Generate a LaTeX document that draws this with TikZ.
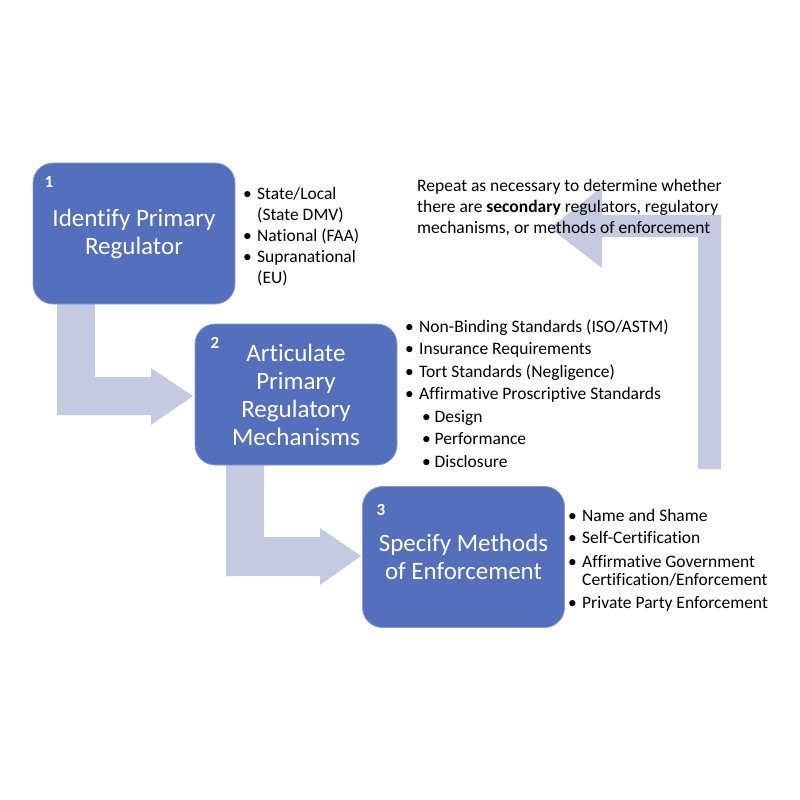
\documentclass[tikz,border=0pt]{standalone}
\usepackage{fontspec}
\setmainfont{Carlito}[Ligatures=NoCommon]
\usepackage{tikz}

\definecolor{stepblue}{RGB}{84,112,188}
\definecolor{flowgray}{RGB}{196,202,224}
\newcommand{\bul}{\makebox[14pt][l]{•}}
\newcommand{\subbul}{\hspace{17pt}\makebox[12.5pt][l]{•}}

\tikzset{
  stepbox/.style={fill=stepblue, draw=stepblue!70!white, line width=0.8pt,
    rounded corners=20pt, minimum width=202pt, minimum height=141pt,
    inner sep=0pt, text=white, align=center,
    font=\fontsize{25}{28}\selectfont},
  stepnum/.style={text=white, inner sep=0pt, font=\bfseries\fontsize{17}{18}\selectfont},
  bullets/.style={anchor=base west, align=left, inner sep=0pt},
}

\begin{document}
\begin{tikzpicture}[x=1pt, y=-1pt]
\useasboundingbox (0,0) rectangle (800,800);
% loop back arrow
\fill[flowgray] (698,469) -- (698,237) -- (602,237) -- (602,268) --
	(550,228) -- (602,187) -- (602,215) -- (721,215) -- (721,469) -- cycle;
% step arrows
\fill[flowgray] (57,290) -- (95,290) -- (95,377) -- (151,377) -- (151,368) --
	(193,396) -- (151,425) -- (151,415) -- (57,415) -- cycle;
\fill[flowgray] (226,455) -- (264,455) -- (264,537) -- (320,537) -- (320,528) --
	(361,556) -- (320,585) -- (320,576) -- (226,576) -- cycle;

% boxes
\node[stepbox] (box1) at (134,233.5) {Identify Primary\\Regulator};
\node[stepbox] (box2) at (296,394.5) {Articulate\\Primary\\Regulatory\\Mechanisms};
\node[stepbox] (box3) at (463.5,557) {Specify Methods\\of Enforcement};
\node[stepnum] (num1) at (49,182) {1};
\node[stepnum] (num2) at (215,343) {2};
\node[stepnum] (num3) at (381,510) {3};

% lists (anchored on their last line)
\node[bullets, font=\fontsize{17.5}{21}\selectfont] (list1) at (243,283) {%
	\bul State/Local\\
	\hspace{14pt}(State DMV)\\
	\bul National (FAA)\\
	\bul Supranational\\
	\hspace{14pt}(EU)};
\node[bullets, font=\fontsize{17.5}{22.5}\selectfont] (list2) at (405,467) {%
	\bul Non-Binding Standards (ISO/ASTM)\\
	\bul Insurance Requirements\\
	\bul Tort Standards (Negligence)\\
	\bul Affirmative Proscriptive Standards\\
	\subbul Design\\
	\subbul Performance\\
	\subbul Disclosure};
\node[bullets, font=\fontsize{17.5}{18.5}\selectfont] (list3) at (568,608) {%
	\bul Name and Shame\\[3.5pt]
	\bul Self-Certification\\[5pt]
	\bul Affirmative Government\\
	\hspace{14pt}Certification/Enforcement\\[4pt]
	\bul Private Party Enforcement};
\node[bullets, font=\fontsize{17.5}{21}\selectfont] (note) at (417,233) {%
	Repeat as necessary to determine whether\\
	there are \textbf{secondary} regulators, regulatory\\
	mechanisms, or methods of enforcement};
\end{tikzpicture}
\end{document}
